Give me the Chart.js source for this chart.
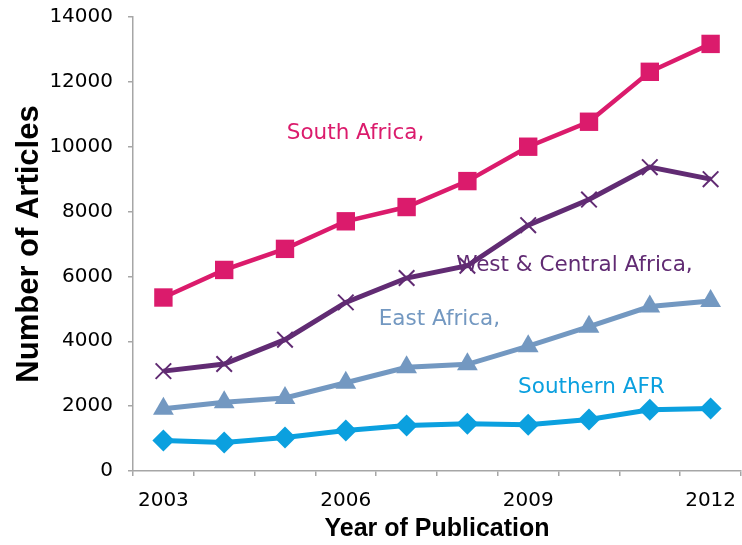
<!DOCTYPE html>
<html>
<head>
<meta charset="utf-8">
<script src="https://cdn.jsdelivr.net/npm/chart.js@4/dist/chart.umd.min.js"></script>
<style>
  html, body { margin: 0; padding: 0; background: #fff; }
  #wrap { width: 742px; height: 545px; }
</style>
</head>
<body>
<div id="wrap"><canvas id="chart" width="742" height="545"></canvas></div>
<script>
// data
const years = ['2003', '2004', '2005', '2006', '2007', '2008', '2009', '2010', '2011', '2012'];
const southAfrica = [5350, 6200, 6850, 7700, 8140, 8940, 10000, 10770, 12310, 13170];
const westCentral = [3080, 3300, 4050, 5200, 5950, 6330, 7580, 8370, 9370, 9000];
const eastAfrica = [1920, 2120, 2250, 2720, 3200, 3290, 3850, 4450, 5070, 5240];
const southernAfr = [940, 880, 1030, 1250, 1400, 1460, 1430, 1590, 1890, 1930];
const yTicks = [0, 2000, 4000, 6000, 8000, 10000, 12000, 14000];

const gray = '#a6a6a6';

// series name labels, placed at (category index, value)
const seriesLabels = [
  { text: 'South Africa,', color: '#db1b6c', at: [3.16, 10400] },
  { text: 'West & Central Africa,', color: '#612b73', at: [6.76, 6350] },
  { text: 'East Africa,', color: '#7398c1', at: [4.54, 4660] },
  { text: 'Southern AFR', color: '#0ba0df', at: [7.04, 2590] }
];

const labelPlugin = {
  id: 'seriesLabels',
  afterDatasetsDraw(chart) {
    const { ctx, scales: { x, y } } = chart;
    ctx.save();
    ctx.font = '21.5px "DejaVu Sans"';
    ctx.textAlign = 'center';
    ctx.textBaseline = 'middle';
    seriesLabels.forEach(l => {
      ctx.fillStyle = l.color;
      ctx.fillText(l.text, x.getPixelForValue(l.at[0]), y.getPixelForValue(l.at[1]));
    });
    ctx.restore();
  }
};

new Chart(document.getElementById('chart'), {
  type: 'line',
  data: {
    labels: years,
    datasets: [
      {
        label: 'South Africa', data: southAfrica,
        borderColor: '#db1b6c', backgroundColor: '#db1b6c', borderWidth: 4.5,
        pointStyle: 'rect', pointRadius: 13, pointBorderWidth: 0,
        pointBackgroundColor: '#db1b6c'
      },
      {
        label: 'West & Central Africa', data: westCentral,
        borderColor: '#612b73', backgroundColor: '#612b73', borderWidth: 5,
        pointStyle: 'crossRot', pointRadius: 11, pointBorderWidth: 2,
        pointBorderColor: '#612b73'
      },
      {
        label: 'East Africa', data: eastAfrica,
        borderColor: '#7398c1', backgroundColor: '#7398c1', borderWidth: 5,
        pointStyle: 'triangle', pointRadius: 12, pointBorderWidth: 0,
        pointBackgroundColor: '#7398c1'
      },
      {
        label: 'Southern AFR', data: southernAfr,
        borderColor: '#0ba0df', backgroundColor: '#0ba0df', borderWidth: 5,
        pointStyle: 'rectRot', pointRadius: 11, pointBorderWidth: 0,
        pointBackgroundColor: '#0ba0df'
      }
    ]
  },
  options: {
    responsive: false,
    animation: false,
    layout: { autoPadding: false, padding: { top: 17, right: 1, bottom: 0, left: 0 } },
    plugins: { legend: { display: false }, tooltip: { enabled: false } },
    scales: {
      x: {
        offset: true,
        grid: { offset: true, drawOnChartArea: false, color: gray, tickLength: 5, lineWidth: 1.5 },
        border: { color: gray, width: 1.5 },
        ticks: {
          autoSkip: false, maxRotation: 0, padding: 13,
          color: '#000', font: { family: 'DejaVu Sans', size: 20 },
          callback: (v, i) => (i % 3 === 0 ? years[i] : '')
        },
        title: {
          display: true, text: 'Year of Publication', color: '#000',
          font: { family: 'Liberation Sans', size: 25, weight: 'bold' },
          padding: { top: 2, bottom: 1 }
        },
        afterFit: s => { s.height = 74; s.paddingLeft = 0; s.paddingRight = 0; }
      },
      y: {
        min: 0, max: 14000,
        afterBuildTicks: s => { s.ticks = yTicks.map(v => ({ value: v })); },
        grid: { drawOnChartArea: false, color: gray, tickLength: 5, lineWidth: 1.5 },
        border: { color: gray, width: 1.5 },
        ticks: {
          padding: 15, color: '#000', font: { family: 'DejaVu Sans', size: 20 },
          callback: v => String(v)
        },
        title: {
          display: true, text: 'Number of Articles', color: '#000',
          font: { family: 'Liberation Sans', size: 31, weight: 'bold' },
          padding: { top: 11, bottom: 0 }
        },
        afterFit: s => { s.width = 133; s.paddingTop = 0; s.paddingBottom = 0; }
      }
    }
  },
  plugins: [labelPlugin]
});
</script>
</body>
</html>
